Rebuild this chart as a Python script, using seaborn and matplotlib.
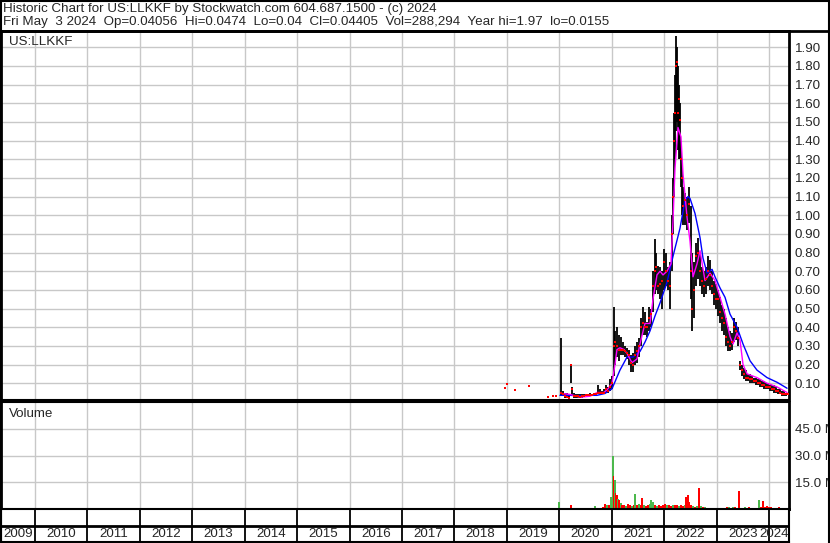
import numpy as np
import seaborn as sns
from matplotlib import pyplot as plt
from matplotlib.lines import Line2D

# ---- price bars (decimal years) ----
bar_year = [2018.964, 2019.002, 2019.155, 2019.422, 2019.784, 2019.879, 2019.937,
            2020.032, 2020.070, 2020.108, 2020.146, 2020.185, 2020.223, 2020.242, 2020.280,
            2020.318, 2020.356, 2020.394, 2020.433, 2020.471, 2020.509, 2020.547, 2020.585,
            2020.623, 2020.661, 2020.700, 2020.738, 2020.776, 2020.814, 2020.852, 2020.890,
            2020.929, 2020.967, 2021.005, 2021.043, 2021.062, 2021.100, 2021.138, 2021.177,
            2021.215, 2021.253, 2021.291, 2021.329, 2021.367, 2021.405, 2021.444, 2021.482,
            2021.520, 2021.558, 2021.596, 2021.634, 2021.673, 2021.711, 2021.749, 2021.787,
            2021.825, 2021.844, 2021.882, 2021.921, 2021.959, 2021.997, 2022.035, 2022.073,
            2022.111, 2022.150, 2022.169, 2022.188, 2022.207, 2022.226, 2022.245, 2022.264,
            2022.283, 2022.302, 2022.321, 2022.340, 2022.360, 2022.398, 2022.436, 2022.474,
            2022.512, 2022.531, 2022.569, 2022.608, 2022.646, 2022.684, 2022.722, 2022.760,
            2022.798, 2022.837, 2022.875, 2022.913, 2022.951, 2022.989, 2023.027, 2023.066,
            2023.104, 2023.142, 2023.180, 2023.218, 2023.256, 2023.295, 2023.333, 2023.371,
            2023.409, 2023.447, 2023.485, 2023.524, 2023.562, 2023.600, 2023.638, 2023.676,
            2023.714, 2023.753, 2023.791, 2023.829, 2023.867, 2023.905, 2023.943, 2023.982,
            2024.020, 2024.058, 2024.096, 2024.134, 2024.172, 2024.211, 2024.249, 2024.287,
            2024.325, 2024.363]
bar_high = [0.073, 0.094, 0.062, 0.084, 0.025, 0.030, 0.030,
            0.34, 0.06, 0.05, 0.05, 0.04, 0.20, 0.08, 0.05,
            0.04, 0.04, 0.04, 0.04, 0.04, 0.04, 0.04, 0.045,
            0.04, 0.045, 0.05, 0.09, 0.07, 0.06, 0.07, 0.09,
            0.08, 0.12, 0.14, 0.51, 0.38, 0.40, 0.36, 0.35,
            0.32, 0.30, 0.29, 0.28, 0.25, 0.26, 0.30, 0.32,
            0.34, 0.45, 0.51, 0.48, 0.43, 0.51, 0.50, 0.70,
            0.87, 0.80, 0.73, 0.72, 0.70, 0.82, 0.80, 0.72,
            0.75, 1.00, 1.20, 1.55, 1.75, 1.96, 1.90, 1.80,
            1.70, 1.60, 1.40, 1.30, 1.15, 1.12, 1.10, 1.15,
            1.05, 0.80, 0.75, 0.85, 0.88, 0.80, 0.72, 0.70,
            0.72, 0.78, 0.76, 0.70, 0.65, 0.63, 0.60, 0.56,
            0.52, 0.50, 0.45, 0.40, 0.38, 0.37, 0.45, 0.43,
            0.40, 0.22, 0.20, 0.18, 0.17, 0.15, 0.15, 0.14,
            0.13, 0.13, 0.12, 0.12, 0.11, 0.11, 0.10, 0.10,
            0.09, 0.09, 0.09, 0.08, 0.07, 0.07, 0.06, 0.06,
            0.05, 0.047]
bar_low = [0.073, 0.094, 0.062, 0.084, 0.025, 0.030, 0.030,
           0.03, 0.03, 0.02, 0.02, 0.015, 0.10, 0.03, 0.02,
           0.02, 0.02, 0.02, 0.02, 0.025, 0.03, 0.03, 0.03,
           0.03, 0.03, 0.03, 0.04, 0.04, 0.04, 0.04, 0.05,
           0.05, 0.06, 0.07, 0.14, 0.20, 0.24, 0.22, 0.25,
           0.25, 0.24, 0.23, 0.20, 0.16, 0.16, 0.20, 0.21,
           0.24, 0.30, 0.36, 0.36, 0.35, 0.38, 0.40, 0.48,
           0.58, 0.60, 0.58, 0.55, 0.50, 0.60, 0.62, 0.60,
           0.50, 0.70, 0.90, 1.10, 1.30, 1.45, 1.50, 1.35,
           1.30, 1.30, 1.15, 1.00, 0.95, 0.95, 0.92, 0.96,
           0.55, 0.38, 0.45, 0.62, 0.66, 0.62, 0.58, 0.56,
           0.58, 0.62, 0.60, 0.58, 0.52, 0.50, 0.46, 0.42,
           0.38, 0.36, 0.30, 0.27, 0.27, 0.28, 0.32, 0.33,
           0.30, 0.17, 0.14, 0.12, 0.11, 0.11, 0.10, 0.10,
           0.10, 0.09, 0.09, 0.08, 0.08, 0.07, 0.07, 0.07,
           0.06, 0.06, 0.05, 0.05, 0.04, 0.04, 0.03, 0.03,
           0.03, 0.04]
bar_close = [0.073, 0.094, 0.062, 0.084, 0.025, 0.030, 0.030,
             0.05, 0.04, 0.03, 0.025, 0.02, 0.20, 0.07, 0.03,
             0.03, 0.03, 0.025, 0.03, 0.03, 0.035, 0.035, 0.035,
             0.035, 0.04, 0.04, 0.05, 0.05, 0.05, 0.05, 0.07,
             0.06, 0.08, 0.10, 0.30, 0.32, 0.30, 0.28, 0.28,
             0.28, 0.27, 0.26, 0.25, 0.21, 0.20, 0.25, 0.27,
             0.30, 0.40, 0.42, 0.40, 0.40, 0.45, 0.47, 0.62,
             0.70, 0.72, 0.62, 0.63, 0.65, 0.75, 0.70, 0.65,
             0.62, 0.90, 1.10, 1.40, 1.55, 1.80, 1.82, 1.55,
             1.62, 1.51, 1.30, 1.20, 1.05, 1.08, 1.00, 1.06,
             0.70, 0.50, 0.60, 0.78, 0.80, 0.70, 0.65, 0.62,
             0.66, 0.70, 0.68, 0.62, 0.58, 0.55, 0.55, 0.48,
             0.45, 0.42, 0.35, 0.32, 0.30, 0.32, 0.40, 0.38,
             0.34, 0.20, 0.17, 0.15, 0.13, 0.13, 0.12, 0.12,
             0.11, 0.11, 0.10, 0.10, 0.09, 0.09, 0.08, 0.08,
             0.08, 0.07, 0.07, 0.06, 0.06, 0.05, 0.04, 0.04,
             0.04, 0.044]

# short moving average (magenta)
ma_fast_year = [2020.051, 2020.204, 2020.394, 2020.585, 2020.719, 2020.852, 2020.929, 2021.005,
                2021.062, 2021.100, 2021.157, 2021.234, 2021.291, 2021.386, 2021.482, 2021.539,
                2021.634, 2021.730, 2021.787, 2021.863, 2021.921, 2021.978, 2022.054, 2022.130,
                2022.169, 2022.207, 2022.264, 2022.321, 2022.360, 2022.436, 2022.493, 2022.550,
                2022.627, 2022.684, 2022.779, 2022.875, 2022.970, 2023.066, 2023.161, 2023.256,
                2023.314, 2023.390, 2023.447, 2023.504, 2023.581, 2023.771, 2023.962, 2024.153,
                2024.344]
ma_fast = [0.045, 0.04, 0.025, 0.03, 0.05, 0.05, 0.07, 0.10,
           0.20, 0.28, 0.29, 0.28, 0.26, 0.21, 0.23, 0.31,
           0.42, 0.42, 0.55, 0.68, 0.70, 0.68, 0.70, 0.74,
           0.97, 1.25, 1.47, 1.42, 1.22, 0.99, 0.86, 0.67,
           0.74, 0.81, 0.65, 0.69, 0.65, 0.56, 0.47, 0.35,
           0.31, 0.37, 0.33, 0.20, 0.15, 0.13, 0.10, 0.08,
           0.05]

# long moving average (blue)
ma_slow_year = [2020.013, 2020.204, 2020.394, 2020.585, 2020.719, 2020.871, 2021.005, 2021.081,
                2021.157, 2021.234, 2021.291, 2021.405, 2021.539, 2021.634, 2021.730, 2021.825,
                2021.921, 2022.054, 2022.169, 2022.302, 2022.398, 2022.455, 2022.493, 2022.588,
                2022.684, 2022.741, 2022.818, 2022.913, 2022.970, 2023.066, 2023.161, 2023.256,
                2023.390, 2023.504, 2023.638, 2023.771, 2023.962, 2024.153, 2024.344]
ma_slow = [0.035, 0.035, 0.033, 0.035, 0.035, 0.045, 0.07, 0.12,
           0.17, 0.21, 0.24, 0.24, 0.27, 0.32, 0.38, 0.46,
           0.53, 0.64, 0.78, 0.93, 1.08, 1.10, 1.09, 1.01,
           0.88, 0.77, 0.69, 0.71, 0.67, 0.61, 0.56, 0.47,
           0.40, 0.31, 0.22, 0.17, 0.13, 0.105, 0.073]

# ---- volume (millions of shares), up = close above previous close ----
vol_year = [2018.964, 2019.155, 2019.784, 2019.879, 2019.994, 2020.032, 2020.070, 2020.146,
            2020.223, 2020.280, 2020.337, 2020.394, 2020.452, 2020.509, 2020.566, 2020.623,
            2020.681, 2020.738, 2020.776, 2020.833, 2020.871, 2020.909, 2020.947, 2020.986,
            2021.024, 2021.033, 2021.062, 2021.071, 2021.100, 2021.119, 2021.138, 2021.176,
            2021.195, 2021.234, 2021.272, 2021.310, 2021.348, 2021.386, 2021.424, 2021.443,
            2021.482, 2021.520, 2021.558, 2021.577, 2021.615, 2021.653, 2021.691, 2021.730,
            2021.749, 2021.787, 2021.825, 2021.863, 2021.901, 2021.939, 2021.978, 2022.016,
            2022.054, 2022.092, 2022.130, 2022.168, 2022.206, 2022.245, 2022.283, 2022.321,
            2022.359, 2022.397, 2022.416, 2022.454, 2022.473, 2022.511, 2022.550, 2022.588,
            2022.626, 2022.664, 2022.702, 2022.740, 2022.779, 2022.817, 2022.855, 2022.893,
            2022.931, 2022.969, 2023.008, 2023.046, 2023.084, 2023.122, 2023.160, 2023.198,
            2023.236, 2023.274, 2023.313, 2023.351, 2023.389, 2023.427, 2023.465, 2023.503,
            2023.541, 2023.580, 2023.618, 2023.656, 2023.694, 2023.732, 2023.770, 2023.808,
            2023.847, 2023.885, 2023.923, 2023.961, 2023.999, 2024.037, 2024.076, 2024.114,
            2024.152, 2024.190, 2024.228, 2024.266, 2024.304, 2024.342]
vol_m = [0.3, 0.3, 0.5, 0.3, 3.7, 0.8, 0.5, 0.5,
         2.0, 0.6, 0.8, 0.4, 0.5, 0.6, 0.5, 0.7,
         1.5, 0.8, 0.7, 1.0, 2.6, 2.2, 2.5, 7.0,
         30.0, 18.5, 16.0, 9.0, 8.0, 5.5, 5.0, 3.5,
         2.5, 2.0, 1.5, 3.0, 2.0, 1.5, 2.0, 8.3,
         2.0, 3.0, 2.5, 6.0, 2.0, 1.5, 2.0, 3.0,
         5.0, 4.0, 2.0, 1.5, 2.5, 1.5, 2.5, 3.0,
         2.5, 2.0, 1.5, 2.0, 2.5, 2.0, 1.5, 2.0,
         1.5, 2.0, 6.5, 8.0, 4.0, 2.0, 1.5, 1.0,
         1.5, 12.0, 1.5, 1.0, 1.0, 0.8, 0.7, 0.5,
         0.5, 0.5, 0.5, 0.5, 0.6, 0.8, 0.8, 1.0,
         1.0, 0.8, 1.2, 1.0, 0.8, 10.0, 0.8, 0.7,
         1.0, 0.6, 1.0, 0.8, 0.8, 0.7, 0.6, 4.8,
         1.0, 4.7, 1.0, 1.5, 1.2, 1.0, 0.8, 0.7,
         0.6, 1.0, 0.8, 0.6, 0.5, 0.5]
vol_up = [1, 0, 0, 1, 1, 0, 0, 1,
          0, 0, 1, 0, 1, 0, 1, 0,
          1, 0, 1, 0, 0, 1, 0, 1,
          1, 0, 1, 0, 0, 1, 0, 1,
          0, 0, 1, 0, 0, 1, 0, 1,
          0, 1, 0, 0, 1, 0, 0, 1,
          1, 1, 0, 1, 0, 0, 0, 0,
          1, 0, 0, 1, 0, 0, 1, 0,
          0, 1, 0, 0, 0, 0, 1, 0,
          1, 0, 1, 0, 1, 1, 0, 1,
          0, 1, 0, 1, 0, 1, 0, 0,
          1, 0, 1, 0, 0, 0, 1, 0,
          1, 1, 0, 0, 1, 0, 1, 1,
          0, 0, 0, 0, 0, 0, 1, 0,
          0, 0, 1, 0, 1, 0]

years = list(range(2010, 2025))
year_labels = [str(y) for y in range(2009, 2025)]
price_ticks = [0.10, 0.20, 0.30, 0.40, 0.50, 0.60, 0.70, 0.80, 0.90, 1.00,
               1.10, 1.20, 1.30, 1.40, 1.50, 1.60, 1.70, 1.80, 1.90]
vol_ticks = [15, 30, 45]

title1 = 'Historic Chart for US:LLKKF by Stockwatch.com 604.687.1500 - (c) 2024'
title2 = ('Fri May  3 2024  Op=0.04056  Hi=0.0474  Lo=0.04  Cl=0.04405  '
          'Vol=288,294  Year hi=1.97  lo=0.0155')

sns.set_style('white')
plt.rcParams['font.family'] = ['Liberation Sans', 'DejaVu Sans']
FS = 9.6

W, H = 830, 543
fig = plt.figure(figsize=(W / 100, H / 100), dpi=100)
XMIN, XMAX = 2009.352, 2024.381
GRID = '#c8c8c8'


def box(x0, y0, x1, y1):
    # pixel box (top-left origin) -> figure fraction rect
    return [x0 / W, 1 - y1 / H, (x1 - x0) / W, (y1 - y0) / H]


# ---- price panel ----
ax = fig.add_axes(box(1, 31, 789, 400))
ax.set_xlim(XMIN, XMAX)
ax.set_ylim(0.01, 1.987)
ax.set_xticks(years)
ax.set_yticks(price_ticks)
ax.grid(True, color=GRID, lw=1)
ax.set_axisbelow(True)
ax.vlines(bar_year, bar_low, bar_high, color='black', lw=1.3, zorder=2)
sns.lineplot(x=ma_slow_year, y=ma_slow, color='#0000ff', lw=1.0, ax=ax, zorder=3)
sns.lineplot(x=ma_fast_year, y=ma_fast, color='#ff00ff', lw=1.0, ax=ax, zorder=4)
sns.scatterplot(x=bar_year, y=bar_close, color='#ff0000', marker='s', s=3,
                linewidth=0, ax=ax, zorder=5)
ax.yaxis.tick_right()
ax.yaxis.set_major_formatter(plt.FormatStrFormatter('%.2f'))
ax.tick_params(axis='y', length=0, pad=4, labelsize=FS)
ax.tick_params(axis='x', length=0, labelbottom=False)
ax.set_xlabel('')
ax.set_ylabel('')
for s in ['left', 'right', 'top']:
    ax.spines[s].set_linewidth(2)
    ax.spines[s].set_color('black')
ax.spines['bottom'].set_linewidth(1.5)
ax.spines['bottom'].set_color('black')
ax.text(0.01, 0.97, 'US:LLKKF', transform=ax.transAxes, fontsize=FS, va='center')

# ---- volume panel ----
axv = fig.add_axes(box(1, 402, 789, 509))
axv.set_xlim(XMIN, XMAX)
axv.set_ylim(0, 60)
axv.set_xticks(years)
axv.set_yticks(vol_ticks)
axv.set_yticklabels(['%.1f M' % v for v in vol_ticks])
axv.grid(True, color=GRID, lw=1)
axv.set_axisbelow(True)
vol_colors = ['#4cb84c' if u else '#ff0000' for u in vol_up]
axv.bar(vol_year, vol_m, width=0.036, color=vol_colors, linewidth=0, zorder=2)
axv.yaxis.tick_right()
axv.tick_params(axis='y', length=0, pad=4, labelsize=FS)
axv.tick_params(axis='x', length=0, labelbottom=False)
for s in ['left', 'right', 'bottom']:
    axv.spines[s].set_linewidth(2)
    axv.spines[s].set_color('black')
axv.spines['top'].set_linewidth(1.5)
axv.spines['top'].set_color('black')
axv.text(0.01, 0.89, 'Volume', transform=axv.transAxes, fontsize=FS, va='center')

# ---- year band ----
axy = fig.add_axes(box(1, 509, 789, 542))
axy.set_xlim(XMIN, XMAX)
axy.set_ylim(0, 1)
axy.set_xticks([])
axy.set_yticks([])
axy.vlines(years, 0, 1, color='black', lw=1.3)
axy.axhline(0.5, color='black', lw=2)
for lab in year_labels:
    y = int(lab)
    if y == 2009:
        xc, ha = (XMIN + 2010) / 2, 'center'
    elif y == 2024:
        xc, ha = XMAX - 0.01, 'right'
    else:
        xc, ha = y + 0.5, 'center'
    axy.text(xc, 0.24, lab, ha=ha, va='center', fontsize=FS, clip_on=True)
for s in axy.spines.values():
    s.set_linewidth(1.5)
    s.set_color('black')

# ---- header and frame ----
fig.text(3 / W, 1 - 12 / H, title1, fontsize=FS, va='baseline')
fig.text(3 / W, 1 - 25 / H, title2, fontsize=FS, va='baseline')
fig.add_artist(Line2D([0, 1], [1 - 31 / H] * 2, color='black', lw=2))
fig.add_artist(Line2D([0.5 / W, 0.5 / W], [0, 1], color='black', lw=1.5))
fig.add_artist(Line2D([1 - 1 / W, 1 - 1 / W], [0, 1], color='black', lw=1.5))
fig.add_artist(Line2D([0, 1], [1 - 0.5 / H] * 2, color='black', lw=1.5))
fig.add_artist(Line2D([0, 789 / W], [0.5 / H] * 2, color='black', lw=1.5))

fig.savefig('out.png', dpi=100)
